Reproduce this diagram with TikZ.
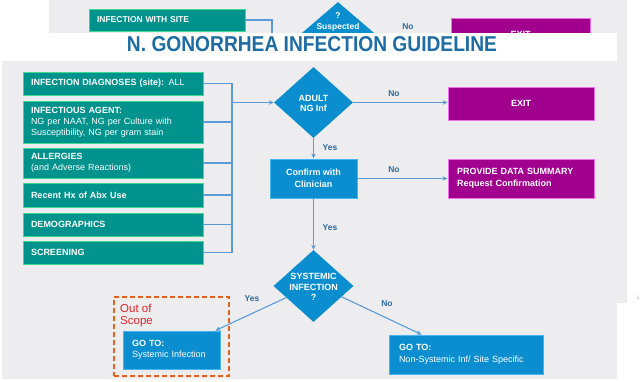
\documentclass[tikz,border=0pt]{standalone}
\usepackage{fontspec}
\usepackage{graphicx}
\setmainfont{Liberation Sans}
\usetikzlibrary{shapes.geometric,arrows.meta,calc}
\definecolor{bg}{HTML}{EDEDEF}
\definecolor{teal1}{HTML}{00928C}
\definecolor{tealb}{HTML}{3FD88F}
\definecolor{mag}{HTML}{A1008F}
\definecolor{magb}{HTML}{EE6FEE}
\definecolor{blu}{HTML}{0A8ED0}
\definecolor{blub}{HTML}{45B5F0}
\definecolor{linec}{HTML}{5B9BD8}
\definecolor{titlec}{HTML}{1D6CA4}
\definecolor{lblc}{HTML}{2C6A9C}
\definecolor{oran}{HTML}{E2621B}
\definecolor{redc}{HTML}{E0242A}
\begin{document}
\begin{tikzpicture}[x=1pt,y=-1pt,
  tbox/.style={draw=tealb, fill=teal1, line width=0.9pt, text=white,
    font=\fontsize{9}{11}\selectfont, align=left, text width=164pt,
    inner xsep=8pt, inner ysep=0pt},
  mbox/.style={draw=magb, fill=mag, line width=0.9pt, text=white,
    font=\bfseries\fontsize{9}{12.5}\selectfont, inner sep=0pt},
  bbox/.style={draw=blub, fill=blu, line width=0.9pt, text=white,
    font=\fontsize{9}{11.5}\selectfont, inner ysep=0pt},
  diam/.style={diamond, draw=none, fill=blu, inner sep=0pt},
  dtext/.style={text=white, font=\bfseries\fontsize{9}{10.5}\selectfont, align=center, inner sep=0pt},
  conn/.style={draw=linec, line width=1.1pt},
  arr/.style={conn, -{Stealth[length=5pt,width=4.5pt]}},
  lbl/.style={text=lblc, font=\bfseries\fontsize{8.5}{10}\selectfont, inner sep=0pt},
  scopebox/.style={draw=oran, line width=1.4pt, dash pattern=on 5pt off 3pt},
]
% page + backgrounds
\fill[white] (0,0) rectangle (641,382);
\useasboundingbox (0,0) rectangle (641,382);
\fill[bg] (49,0) rectangle (627,61);
\fill[bg] (2,61) rectangle (627,303);
\fill[bg] (2,303) rectangle (617,379);

% ---------- top (previous slide, partly hidden) ----------
\begin{scope}
\clip (49,0) rectangle (627,33);
\node[tbox, text width=140pt, minimum height=22pt, font=\bfseries\fontsize{8.5}{10}\selectfont] (tis) at (167,20) {INFECTION WITH SITE};
\node[diam, minimum width=84pt, minimum height=72pt] (d0) at (338,38) {};
\node[dtext, font=\bfseries\fontsize{8.5}{11}\selectfont] (d0t) at (338,22) {?\\Suspected};
\node[mbox, minimum width=139pt, minimum height=32pt] (texit) at (520.5,34) {EXIT};
\coordinate (tbus) at (272,0);
\draw[arr] (tis.east) -| (tbus |- d0.west) -- (d0.west);
\draw[arr] (d0.east) -- (d0.east -| texit.west);
\node[lbl] (tno) at (408,27) {No};
\end{scope}

% white title band
\fill[white] (0,33) rectangle (617,61);
\node[text=titlec, anchor=base, inner sep=0pt] (title) at (312,52)
  {\resizebox{370pt}{15pt}{\bfseries N. GONORRHEA INFECTION GUIDELINE}};

% ---------- main slide ----------
\node[tbox, minimum height=23pt] (b1) at (113,83.5) {\textbf{INFECTION DIAGNOSES (site):} ALL};
\node[tbox, minimum height=42pt] (b2) at (113,122) {\textbf{INFECTIOUS AGENT:}\\NG per NAAT, NG per Culture with\\Susceptibility, NG per gram stain};
\node[tbox, minimum height=30pt] (b3) at (113,163) {\textbf{ALLERGIES}\\(and Adverse Reactions)};
\node[tbox, minimum height=24pt] (b4) at (113,195) {\textbf{Recent Hx of Abx Use}};
\node[tbox, minimum height=23pt] (b5) at (113,224.5) {\textbf{DEMOGRAPHICS}};
\node[tbox, minimum height=23pt] (b6) at (113,252.5) {\textbf{SCREENING}};

\node[diam, minimum width=79pt, minimum height=71pt] (d1) at (313.5,102.5) {};
\node[dtext] (d1t) at (313.5,103.5) {ADULT\\NG Inf};

\node[mbox, minimum width=146pt, minimum height=33pt] (exit) at (521,103.5) {EXIT};
\node[mbox, minimum height=39pt, text width=128pt, inner xsep=9pt, align=left] (prov) at (521,178.5) {PROVIDE DATA SUMMARY\\Request Confirmation};

\node[bbox, minimum width=87pt, minimum height=39pt, align=center, font=\bfseries\fontsize{9}{12}\selectfont] (conf) at (313.5,178.5) {Confirm with\\Clinician};

\node[diam, minimum width=80pt, minimum height=72pt] (d2) at (313.5,286) {};
\node[dtext] (d2t) at (313.5,287) {SYSTEMIC\\INFECTION\\?};

\node[scopebox, minimum width=115pt, minimum height=79pt] (oos) at (171.5,336.5) {};
\node[text=redc, font=\fontsize{11.5}{12.5}\selectfont, align=left, anchor=north west, inner sep=0pt] (oost) at (120,303.5) {Out of\\Scope};

\node[bbox, minimum height=38pt, text width=79pt, inner xsep=9pt, align=left] (g1) at (171.5,350) {\textbf{GO TO:}\\Systemic Infection};
\node[bbox, minimum height=39pt, text width=134pt, inner xsep=10pt, align=left] (g2) at (466,354.5) {\textbf{GO TO:}\\Non-Systemic Inf/ Site Specific};

% connectors
\coordinate (bus) at (232,0);
\draw[conn] (b1.east) -| (bus |- b6.east) -- (b6.east);
\foreach \b in {b2,b3,b4,b5} \draw[conn] (\b.east) -- (\b.east -| bus);
\draw[arr] (bus |- d1.west) -- (d1.west);
\draw[arr] (d1.east) -- (d1.east -| exit.west);
\draw[arr] (d1.south) -- (conf.north);
\draw[arr] (conf.east) -- (conf.east -| prov.west);
\draw[arr] (conf.south) -- (d2.north);
\draw[arr] (d2.203) -- ($(g1.north east)+(-5,0)$);
\draw[arr] (d2.339) -- ($(g2.north west)+(33,0)$);

\node[lbl] (no1) at (394,94) {No};
\node[lbl] (yes1) at (330,148) {Yes};
\node[lbl] (no2) at (394,170) {No};
\node[lbl] (yes2) at (330,228) {Yes};
\node[lbl] (yes3) at (252,299) {Yes};
\node[lbl] (no3) at (387,304) {No};

\node[font=\fontsize{5}{5}\selectfont, text=gray!70, inner sep=0pt] (pg) at (638,298) {1};
\end{tikzpicture}
\end{document}
